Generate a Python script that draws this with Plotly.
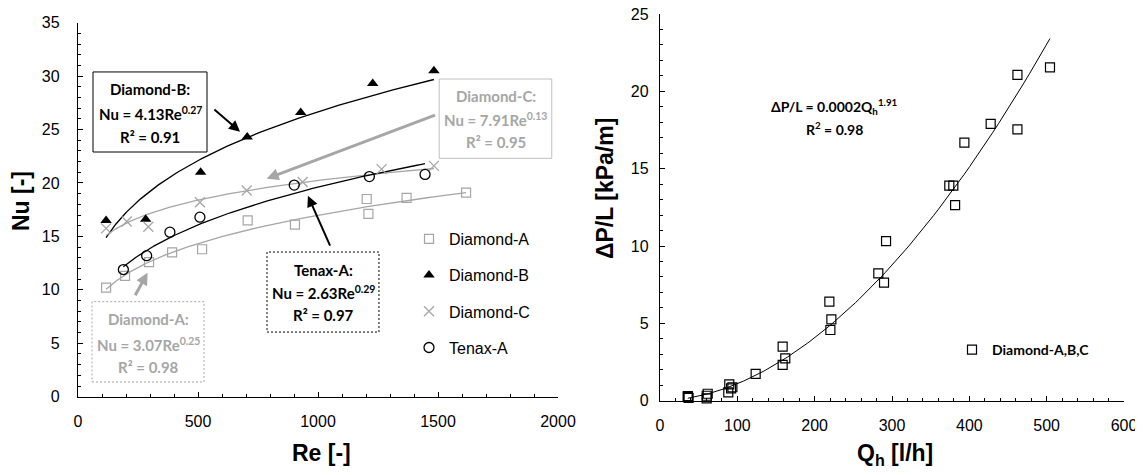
import numpy as np
import plotly.graph_objects as go

# page body adds an 8px margin: the figure is shrunk and all pixel
# positions below are given in screen pixels, then shifted by this offset
OX, OY = 8, 8
W, H = 1143 - OX, 475 - OY

# ---------------- Left chart: Nu vs Re ----------------
re_diamond_a = [117, 196, 296, 392, 517, 707, 904, 1203, 1210, 1369, 1617]
nu_diamond_a = [10.2, 11.3, 12.6, 13.5, 13.8, 16.5, 16.1, 18.5, 17.1, 18.6, 19.1]

re_diamond_b = [117, 282, 511, 705, 928, 1228, 1483]
nu_diamond_b = [16.5, 16.6, 21.0, 24.3, 26.6, 29.3, 30.5]

re_diamond_c = [117, 203, 293, 508, 703, 936, 1265, 1483]
nu_diamond_c = [15.75, 16.4, 15.9, 18.2, 19.3, 20.1, 21.3, 21.6]

re_tenax_a = [189, 286, 383, 508, 901, 1214, 1446]
nu_tenax_a = [11.9, 13.2, 15.4, 16.8, 19.8, 20.6, 20.8]

# ---------------- Right chart: dP/L vs Qh ----------------
q_h = [36, 37, 36, 60.4, 61.7, 60.4, 88.3, 89.6, 91.9, 93.6, 123.7,
       158.6, 158.6, 162, 219, 221.6, 220.3, 282.3, 289.7, 292.3,
       374.1, 379.3, 381.6, 393.6, 427.6, 462.2, 462.2, 504.3]
dp_l = [0.25, 0.18, 0.3, 0.32, 0.45, 0.15, 0.54, 1.06, 0.80, 0.87, 1.73,
        3.49, 2.31, 2.74, 6.4, 5.26, 4.57, 8.23, 7.63, 10.32,
        13.9, 13.9, 12.65, 16.68, 17.9, 21.07, 17.54, 21.55]

left_xticks = [0, 500, 1000, 1500, 2000]
left_yticks = [0, 5, 10, 15, 20, 25, 30, 35]
right_xticks = [0, 100, 200, 300, 400, 500, 600]
right_yticks = [0, 5, 10, 15, 20, 25]

GRAY = "#a6a6a6"
BOXGRAY = "#bfbfbf"
TICKFONT = dict(family="Liberation Sans", size=16, color="black")
TITLEFONT = dict(family="Liberation Sans", size=23, color="black", weight="bold")
NOTE = "Lato"


def fx(p):
    return (p - OX) / W


def fy(p):
    return 1 - (p - OY) / H


def power_fit(x, y):
    b, ln_a = np.polyfit(np.log(x), np.log(y), 1)
    xs = np.geomspace(min(x), max(x), 150)
    return xs, np.exp(ln_a) * xs ** b


fig = go.Figure()

left_series = [
    ("Diamond-A", re_diamond_a, nu_diamond_a,
     dict(symbol="square-open", color=GRAY, size=9, line=dict(width=1.2, color=GRAY)), GRAY),
    ("Diamond-B", re_diamond_b, nu_diamond_b,
     dict(symbol="triangle-up", color="black", size=10, line=dict(width=0)), "black"),
    ("Diamond-C", re_diamond_c, nu_diamond_c,
     dict(symbol="x-thin-open", color=GRAY, size=10, line=dict(width=1.3, color=GRAY)), GRAY),
    ("Tenax-A", re_tenax_a, nu_tenax_a,
     dict(symbol="circle-open", color="black", size=10, line=dict(width=1.3, color="black")), "black"),
]

for name, xs, ys, mk, lc in left_series:
    tx, ty = power_fit(xs, ys)
    fig.add_trace(go.Scatter(x=tx, y=ty, mode="lines", line=dict(color=lc, width=1.3),
                             showlegend=False, hoverinfo="skip", xaxis="x", yaxis="y"))
for name, xs, ys, mk, lc in left_series:
    fig.add_trace(go.Scatter(x=xs, y=ys, mode="markers", marker=mk, name=name,
                             legendgroup=name, legend="legend", xaxis="x", yaxis="y",
                             cliponaxis=False))

tq, tp = power_fit(q_h, dp_l)
fig.add_trace(go.Scatter(x=tq, y=tp, mode="lines", line=dict(color="black", width=1),
                         showlegend=False, hoverinfo="skip", xaxis="x2", yaxis="y2"))
fig.add_trace(go.Scatter(x=q_h, y=dp_l, mode="markers", name="Diamond-A,B,C",
                         marker=dict(symbol="square-open", color="black", size=9,
                                     line=dict(width=1.2, color="black")),
                         legend="legend2", xaxis="x2", yaxis="y2", cliponaxis=False))

axis_common = dict(showgrid=False, zeroline=False, showline=True, linecolor="black",
                   linewidth=1.3, ticks="inside", ticklen=5, tickwidth=1.2, tickcolor="black",
                   tickfont=TICKFONT, automargin=False, ticklabeloverflow="allow")

fig.update_layout(
    width=W, height=H,
    margin=dict(l=0, r=0, t=0, b=0),
    paper_bgcolor="white", plot_bgcolor="white",
    xaxis=dict(domain=[fx(78), fx(558)], range=[0, 2000], tickvals=left_xticks,
               minor=dict(dtick=100, ticks="inside", ticklen=3, tickcolor="black"),
               anchor="y", ticklabelstandoff=10, **axis_common),
    yaxis=dict(domain=[fy(396.7), fy(22.7)], range=[0, 35], tickvals=left_yticks,
               minor=dict(dtick=1, ticks="inside", ticklen=3, tickcolor="black"),
               anchor="x", ticklabelstandoff=14, **axis_common),
    xaxis2=dict(domain=[fx(660), fx(1124)], range=[0, 600], tickvals=right_xticks,
                minor=dict(dtick=20, ticks="inside", ticklen=3, tickcolor="black"),
                anchor="y2", ticklabelstandoff=10, **axis_common),
    yaxis2=dict(domain=[fy(400.7), fy(14)], range=[0, 25], tickvals=right_yticks,
                minor=dict(dtick=1, ticks="inside", ticklen=3, tickcolor="black"),
                anchor="x2", ticklabelstandoff=7, **axis_common),
    legend=dict(x=fx(409), y=fy(222), xanchor="left", yanchor="top",
                font=dict(family="Liberation Sans", size=16, color="black"),
                tracegroupgap=12.4, bgcolor="rgba(0,0,0,0)", itemclick=False),
    legend2=dict(x=fx(952), y=fy(334), xanchor="left", yanchor="top",
                 font=dict(family=NOTE, size=14, color="black", weight="bold"),
                 bgcolor="rgba(0,0,0,0)"),
    showlegend=True,
)

# ---- axis titles ----
def label(text, x, y, font, angle=0):
    fig.add_annotation(text=text, x=fx(x), y=fy(y), xref="paper", yref="paper",
                       xanchor="center", yanchor="middle", showarrow=False,
                       font=font, textangle=angle)


label("Re [-]", 321, 452.5, TITLEFONT)
label("Nu [-]", 21, 201, TITLEFONT, -90)
label("Q<sub>h</sub> [l/h]", 894.5, 454, TITLEFONT)
label("ΔP/L [kPa/m]", 605, 189, TITLEFONT, -90)

# ---- equation boxes (left) ----
boxes = [
    # x0, x1, y0, y1 (data), color, dash
    (62.5, 537.5, 22.9, 30.39, "black", "solid"),
    (1505, 1974, 22.31, 29.73, BOXGRAY, "solid"),
    (787.5, 1254, 6.05, 13.54, "black", "2px,2px"),
    (58.3, 525, 1.38, 8.89, GRAY, "2px,2px"),
]
for x0, x1, y0, y1, c, d in boxes:
    fig.add_shape(type="rect", xref="x", yref="y", x0=x0, x1=x1, y0=y0, y1=y1,
                  line=dict(color=c, width=1, dash=d), fillcolor="white", layer="below")

notes = [
    (150, [88.7, 114, 136.7], ["Diamond-B:", "Nu = 4.13Re<sup>0.27</sup>", "R² = 0.91"], "black"),
    (495.5, [96, 119, 142], ["Diamond-C:", "Nu = 7.91Re<sup>0.13</sup>", "R² = 0.95"], GRAY),
    (323, [270, 292, 315], ["Tenax-A:", "Nu = 2.63Re<sup>0.29</sup>", "R² = 0.97"], "black"),
    (148, [319, 344, 366.7], ["Diamond-A:", "Nu = 3.07Re<sup>0.25</sup>", "R² = 0.98"], GRAY),
]
for cx, ys, texts, c in notes:
    for yy, t in zip(ys, texts):
        label(t, cx, yy, dict(family=NOTE, size=15, color=c, weight="bold"))

# right equation
label("ΔP/L = 0.0002Q<sub>h</sub><sup>1.91</sup>", 834, 106,
      dict(family=NOTE, size=14, color="black", weight="bold"))
label("R<sup>2</sup> = 0.98", 834, 129, dict(family=NOTE, size=14, color="black", weight="bold"))

# ---- arrows (tip x,y ; tail ax,ay in data units) ----
arrows = [
    (675, 24.8, 562, 27.0, "black", 2, 1.1),
    (786, 20.4, 1494, 26.4, GRAY, 3, 0.8),
    (958, 18.8, 1053, 14.0, "black", 2, 1.1),
    (290, 11.6, 235, 9.36, GRAY, 3, 0.8),
]
for x, y, ax, ay, c, w, s in arrows:
    fig.add_annotation(x=x, y=y, ax=ax, ay=ay, xref="x", yref="y", axref="x", ayref="y",
                       text="", showarrow=True, arrowhead=2, arrowsize=s, arrowwidth=w,
                       arrowcolor=c, standoff=0, startstandoff=0)

# faint frame line at right edge
fig.add_shape(type="line", xref="paper", yref="paper", x0=fx(1139), x1=fx(1139), y0=0, y1=1,
              line=dict(color="#eeeeee", width=1))

fig.write_html("out.html")
